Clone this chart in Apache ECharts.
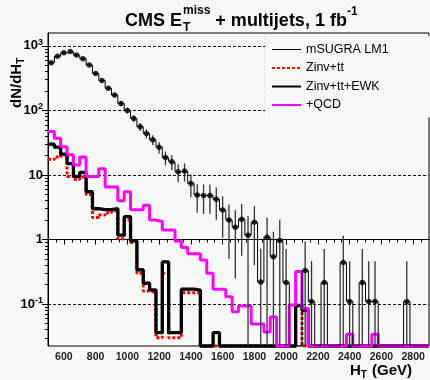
<!DOCTYPE html>
<html>
<head>
<meta charset="utf-8">
<script src="https://cdn.jsdelivr.net/npm/echarts@6/dist/echarts.min.js"></script>
<style>
  html, body { margin: 0; padding: 0; background: #f4f9f6; }
  #chart { width: 430px; height: 380px; }
</style>
</head>
<body>
<div id="chart"></div>
<script>
// H_T bin edges (GeV), 40 GeV bins
const HT_EDGES = [500, 540, 580, 620, 660, 700, 740, 780, 820, 860, 900, 940, 980, 1020, 1060, 1100,
  1140, 1180, 1220, 1260, 1300, 1340, 1380, 1420, 1460, 1500, 1540, 1580, 1620, 1660, 1700, 1740,
  1780, 1820, 1860, 1900, 1940, 1980, 2020, 2060, 2100, 2140, 2180, 2220, 2260, 2300, 2340, 2380,
  2420, 2460, 2500, 2540, 2580, 2620, 2660, 2700, 2740, 2780, 2820, 2860, 2900];

// mSUGRA LM1 signal, dN/dH_T per bin, with its statistical error
const MSUGRA = [546, 692, 780, 820, 720, 635, 505, 375, 290, 220, 173, 128, 100, 75, 56, 44,
  35, 27, 18.6, 16, 11.2, 11.5, 7.4, 4.9, 4.8, 4.8, 4.2, 2.87, 2.0, 1.55, 2.06, 1.17,
  1.85, 0.22, 1.08, 0.54, 0.97, 0.215, 0, 0, 0.33, 0.11, 0, 0.215, 0, 0, 0.44, 0.11,
  0, 0.215, 0.11, 0.11, 0, 0, 0, 0, 0.11, 0, 0, 0];
const MSUGRA_ERR = [25, 28, 29, 30, 28, 27, 24, 20, 18, 16, 14, 12, 10.5, 9, 8, 7,
  6.2, 5.5, 4.5, 4.2, 3.5, 3.6, 2.9, 2.3, 2.3, 2.3, 2.2, 1.8, 1.5, 1.3, 1.5, 1.15,
  1.45, 0.5, 1.1, 0.78, 1.05, 0.5, 0, 0, 0.6, 0.35, 0, 0.5, 0, 0, 0.7, 0.35,
  0, 0.5, 0.35, 0.35, 0, 0, 0, 0, 0.35, 0, 0, 0];

// Backgrounds
const ZINV_TT = [17.5, 19, 20.5, 9.5, 8.5, 9.3, 5.0, 2.2, 2.4, 2.6, 2.8, 1.03, 2.0, 0.9, 0.3, 0.16,
  0.15, 0.03, 0.3, 0.03, 0.03, 0.15, 0.15, 0.15, 0, 0, 0, 0, 0, 0, 0, 0,
  0, 0, 0, 0, 0, 0, 0, 0.095, 0, 0, 0, 0, 0, 0, 0, 0,
  0, 0, 0, 0, 0, 0, 0, 0, 0, 0, 0, 0];
const ZINV_TT_EWK = [30, 27, 21, 15, 9.5, 11, 5.5, 3.0, 2.9, 2.9, 3.0, 1.17, 2.26, 0.95, 0.34, 0.21,
  0.166, 0.036, 0.45, 0.036, 0.036, 0.17, 0.17, 0.165, 0, 0, 0.036, 0, 0, 0, 0, 0,
  0, 0, 0, 0, 0, 0, 0, 0.095, 0.08, 0, 0, 0, 0, 0, 0, 0,
  0, 0, 0, 0, 0, 0, 0, 0, 0, 0, 0, 0];
const PLUS_QCD = [47, 37, 27.5, 20.5, 14.3, 19, 9.5, 9.5, 12.5, 6.5, 6.5, 4.0, 5.5, 2.9, 2.9, 3.4,
  2.0, 1.9, 1.4, 1.4, 0.95, 0.75, 0.6, 0.6, 0.48, 0.3, 0.17, 0.17, 0.13, 0.076, 0.093, 0.093,
  0.049, 0.049, 0.037, 0.063, 0, 0, 0.097, 0.32, 0.085, 0, 0, 0, 0, 0, 0, 0.034,
  0, 0, 0, 0.034, 0, 0, 0, 0, 0, 0, 0, 0];

// Axis ranges and tick labels
const HT_RANGE = [500, 2900];
const X_TICK_LABELS = [600, 800, 1000, 1200, 1400, 1600, 1800, 2000, 2200, 2400, 2600, 2800];
const Y_RANGE = [0.0224, 1585];
const Y_TICKS = [0.1, 1, 10, 100, 1000];
const Y_TICK_LABELS = ['10{e|-1}', '1', '10', '10{e|2}', '10{e|3}'];

const FONT = 'Liberation Sans, Arial, Helvetica, sans-serif';
const BG = '#f4f9f6';

// log10 transform; empty bins sit on the lower edge of the frame
const L = v => Math.log10(Math.max(v, Y_RANGE[0]));
const yMin = Math.log10(Y_RANGE[0]);
const yMax = Math.log10(Y_RANGE[1]);

function stepData(vals) {
  const d = vals.map((v, i) => [HT_EDGES[i], L(v)]);
  d.push([HT_EDGES[vals.length], L(vals[vals.length - 1])]);
  return d;
}

const centers = MSUGRA.map((v, i) => (HT_EDGES[i] + HT_EDGES[i + 1]) / 2);
const markerData = [];
const errData = [];
MSUGRA.forEach((v, i) => {
  if (v > 0) {
    markerData.push([centers[i], L(v)]);
    const lo = v - MSUGRA_ERR[i];
    const hi = Math.min(v + MSUGRA_ERR[i], Y_RANGE[1]);
    errData.push([centers[i], L(lo > 0 ? lo : 0), L(hi)]);
  }
});

// minor ticks
const xMinor = [];
for (let x = HT_RANGE[0] + 50; x < HT_RANGE[1]; x += 50) {
  if (X_TICK_LABELS.indexOf(x) < 0) xMinor.push(x);
}
const yMinor = [];
for (let e = -2; e <= 3; e++) {
  for (let m = 2; m <= 9; m++) {
    const lv = Math.log10(m) + e;
    if (lv > yMin && lv < yMax) yMinor.push(lv);
  }
}
const yMajor = Y_TICKS.map(v => Math.log10(v));

const chart = echarts.init(document.getElementById('chart'), null, { renderer: 'canvas' });

// title pieces, E_T^miss with stacked sub/superscript
const ctx = document.createElement('canvas').getContext('2d');
function textW(str, size) { ctx.font = 'bold ' + size + 'px ' + FONT; return ctx.measureText(str).width; }
const TS = 18, SS = 12;
let tx = 125;
const titleEls = [];
function addText(str, x, y, size) {
  titleEls.push({ type: 'text', x: x, y: y, style: { text: str, fill: '#000', font: 'bold ' + size + 'px ' + FONT, textVerticalAlign: 'middle' } });
}
addText('CMS E', tx, 21, TS); tx += textW('CMS E', TS) + 1;
addText('miss', tx, 11, SS); addText('T', tx, 28, SS);
tx += Math.max(textW('miss', SS), textW('T', SS));
addText(' + multijets, 1 fb', tx, 21, TS); tx += textW(' + multijets, 1 fb', TS);
addText('-1', tx, 12, SS);

// axis titles
const yTitleW = textW('dN/dH', 15);
const hW = textW('H', 15);

const option = {
  backgroundColor: BG,
  animation: false,
  grid: { left: 48, right: 1, top: 33, bottom: 34, show: true, borderColor: '#000', borderWidth: 1, backgroundColor: 'transparent' },
  legend: {
    data: [
      { name: 'mSUGRA LM1', lineStyle: { width: 1 } },
      'Zinv+tt', 'Zinv+tt+EWK', '+QCD'
    ],
    orient: 'vertical', left: 265, top: 36, itemWidth: 29, itemHeight: 14, itemGap: 5.5,
    padding: [7, 60, 6, 6],
    backgroundColor: BG,
    itemStyle: { color: 'transparent', borderColor: 'transparent', borderWidth: 0 },
    textStyle: { fontFamily: FONT, fontSize: 12.5, color: '#000' },
    selectedMode: false
  },
  xAxis: [
    {
      type: 'value', min: HT_RANGE[0], max: HT_RANGE[1], position: 'bottom',
      axisLine: { show: true, lineStyle: { color: '#000' } },
      axisTick: { show: true, length: 5, customValues: X_TICK_LABELS, lineStyle: { color: '#000' } },
      axisLabel: { customValues: X_TICK_LABELS, formatter: v => String(v), fontFamily: FONT, fontWeight: 'bold', fontSize: 10.5, color: '#222', margin: 6 },
      splitLine: { show: false }
    },
    {
      type: 'value', min: HT_RANGE[0], max: HT_RANGE[1], position: 'bottom',
      axisLine: { show: false },
      axisTick: { show: true, length: 3, customValues: xMinor, lineStyle: { color: '#000' } },
      axisLabel: { show: false },
      splitLine: { show: false }
    }
  ],
  yAxis: [
    {
      type: 'value', min: yMin, max: yMax, position: 'left',
      axisLine: { show: true, lineStyle: { color: '#000' } },
      axisTick: { show: true, length: 6, customValues: yMajor, lineStyle: { color: '#000' } },
      axisLabel: {
        customValues: yMajor, margin: 5, color: '#000',
        fontFamily: FONT, fontWeight: 'bold', fontSize: 13,
        formatter: v => Y_TICK_LABELS[yMajor.findIndex(t => Math.abs(t - v) < 1e-6)],
        rich: { e: { fontFamily: FONT, fontWeight: 'bold', fontSize: 9, verticalAlign: 'top', padding: [0, 0, 7, 0] } }
      },
      splitLine: { show: true, lineStyle: { color: '#111', width: 1, type: [3, 2] } }
    },
    {
      type: 'value', min: yMin, max: yMax, position: 'left',
      axisLine: { show: false },
      axisTick: { show: true, length: 3, customValues: yMinor, lineStyle: { color: '#000' } },
      axisLabel: { show: false },
      splitLine: { show: false }
    }
  ],
  graphic: [
    ...titleEls,
    {
      type: 'group', x: 17, y: 108, rotation: Math.PI / 2,
      children: [
        { type: 'text', x: 0, y: 0, style: { text: 'dN/dH', fill: '#000', font: 'bold 15px ' + FONT, textVerticalAlign: 'middle' } },
        { type: 'text', x: yTitleW, y: 4, style: { text: 'T', fill: '#000', font: 'bold 10px ' + FONT, textVerticalAlign: 'middle' } }
      ]
    },
    { type: 'text', x: 350, y: 371, style: { text: 'H', fill: '#000', font: 'bold 15px ' + FONT, textVerticalAlign: 'middle' } },
    { type: 'text', x: 350 + hW, y: 375, style: { text: 'T', fill: '#000', font: 'bold 10px ' + FONT, textVerticalAlign: 'middle' } },
    { type: 'text', x: 350 + hW + 7, y: 371, style: { text: ' (GeV)', fill: '#000', font: 'bold 15px ' + FONT, textVerticalAlign: 'middle' } },
    { type: 'line', z: 100, shape: { x1: 264.5, y1: 36, x2: 264.5, y2: 116 }, style: { stroke: '#e9c6e9', lineWidth: 1, lineDash: [1, 2] } }
  ],
  series: [
    {
      name: 'Zinv+tt', type: 'line', step: 'end', data: stepData(ZINV_TT), symbol: 'none', clip: false, z: 2,
      lineStyle: { color: '#ff0000', width: 3, type: [3, 2] }, itemStyle: { color: '#ff0000' }
    },
    {
      name: 'Zinv+tt+EWK', type: 'line', step: 'end', data: stepData(ZINV_TT_EWK), symbol: 'none', clip: false, z: 3,
      lineStyle: { color: '#000', width: 3.3 }, itemStyle: { color: '#000' }
    },
    {
      name: '+QCD', type: 'line', step: 'end', data: stepData(PLUS_QCD), symbol: 'none', clip: false, z: 4,
      lineStyle: { color: '#ff00ff', width: 3 }, itemStyle: { color: '#ff00ff' }
    },
    {
      name: 'mSUGRA LM1', type: 'line', step: 'end', data: stepData(MSUGRA), symbol: 'none', z: 5,
      lineStyle: { color: '#000', width: 1 }, itemStyle: { color: '#000' }
    },
    {
      name: 'mSUGRA errors', type: 'custom', data: errData, z: 5,
      renderItem: (params, api) => {
        const p1 = api.coord([api.value(0), api.value(1)]);
        const p2 = api.coord([api.value(0), api.value(2)]);
        return { type: 'line', shape: { x1: p1[0], y1: p1[1], x2: p2[0], y2: p2[1] }, style: { stroke: '#333', lineWidth: 1.3 } };
      }
    },
    {
      name: 'mSUGRA points', type: 'scatter', data: markerData, symbol: 'circle', symbolSize: 5.5, z: 6,
      itemStyle: { color: '#000' }
    }
  ]
};
chart.setOption(option);
</script>
</body>
</html>
